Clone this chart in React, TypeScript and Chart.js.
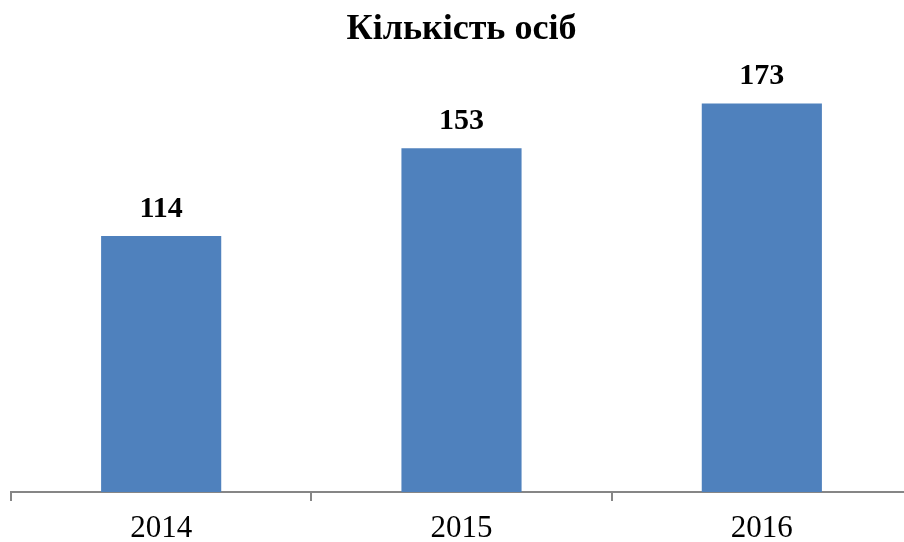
import React, { useEffect, useRef } from "react";
import { Chart, registerables } from "chart.js";

Chart.register(...registerables);

const categories = ["2014", "2015", "2016"];
const values = [114, 153, 173];
const titleText = "Кількість осіб";

const valueLabels = {
  id: "valueLabels",
  afterDatasetsDraw(chart: any) {
    const ctx = chart.ctx;
    const meta = chart.getDatasetMeta(0);
    ctx.save();
    ctx.font = "bold 30px 'Liberation Serif', 'Times New Roman', serif";
    ctx.fillStyle = "#000000";
    ctx.textAlign = "center";
    ctx.textBaseline = "alphabetic";
    meta.data.forEach((bar: any, i: number) => {
      ctx.fillText(String(values[i]), bar.x, bar.y - 19);
    });
    ctx.restore();
  },
};

export default function App() {
  const ref = useRef<HTMLCanvasElement>(null);
  useEffect(() => {
    if (!ref.current) return;
    const chart = new Chart(ref.current, {
      type: "bar",
      data: {
        labels: categories,
        datasets: [
          {
            data: values,
            backgroundColor: "#4F81BD",
            borderWidth: 0,
            barPercentage: 0.4,
            categoryPercentage: 1,
          },
        ],
      },
      options: {
        animation: false,
        responsive: true,
        maintainAspectRatio: false,
        layout: { padding: { left: 11, right: 0, top: 0, bottom: -15 } },
        plugins: {
          legend: { display: false },
          tooltip: { enabled: false },
          title: {
            display: true,
            text: titleText,
            color: "#000000",
            font: { family: "'Liberation Serif', 'Times New Roman', serif", size: 36, weight: "bold" },
            padding: { top: 8, bottom: 14 },
          },
        },
        scales: {
          y: {
            display: false,
            min: 0,
            max: 190,
          },
          x: {
            border: { display: true, color: "#868686", width: 2 },
            grid: {
              display: true,
              drawOnChartArea: false,
              drawTicks: true,
              tickLength: 9,
              color: "#868686",
              lineWidth: 2,
              offset: true,
            },
            ticks: {
              color: "#000000",
              padding: 9,
              font: { family: "'Liberation Serif', 'Times New Roman', serif", size: 31, lineHeight: 1.226 },
            },
          },
        },
      },
      plugins: [valueLabels],
    });
    return () => chart.destroy();
  }, []);
  return (
    <div style={{ position: "fixed", left: 0, top: 0, width: 904, height: 542, overflow: "hidden", background: "#fff" }}>
      <div style={{ position: "absolute", left: 0, top: 0, width: 912, height: 542 }}>
        <canvas ref={ref} />
      </div>
    </div>
  );
}
